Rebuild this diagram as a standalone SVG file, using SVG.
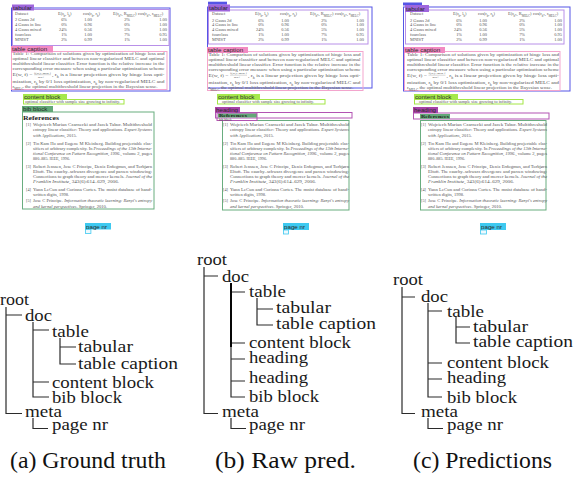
<svg xmlns="http://www.w3.org/2000/svg" width="583" height="477" viewBox="0 0 583 477">
<style>
.tb{font-family:"Liberation Serif","Times New Roman",serif;font-size:4.4px;fill:#555}
.tb text.r{text-anchor:end}
.sb{font-size:3px;baseline-shift:sub}
.it{font-style:italic}
.rf{font-family:"Liberation Serif","Times New Roman",serif;font-size:4.2px;fill:#555}
.hd{font-family:"Liberation Serif","Times New Roman",serif;font-size:6.6px;font-weight:bold;fill:#222}
.lb{font-family:"Liberation Sans",Arial,sans-serif;font-size:6.2px;fill:#2a2a2a}
.tr{font-family:"Liberation Serif","Times New Roman",serif;font-size:17.5px;fill:#1a1a1a}
.cp{font-family:"Liberation Serif","Times New Roman",serif;font-size:23px;fill:#111}
.ln{stroke:#2b2b2b;stroke-width:1.2;fill:none}
.bx{fill:none;stroke-width:1}
.s-tab{stroke:#b890e8}.f-tab{fill:#9f66dc}
.s-tbl{stroke:#5555e6}.f-tbl{fill:#5555e6}
.s-cap{stroke:#f3a5cd}.f-cap{fill:#f28ac2}
.s-cb{stroke:#a3e645}.f-cb{fill:#a6e84c}
.s-bib{stroke:#69ad7f}.f-bib{fill:#62a878}
.s-hd{stroke:#b354b3}.f-hd{fill:#a843a8}
.f-pn{fill:#3ec9f0}
.pnb{fill:#eef9fd;stroke:#3ec9f0;stroke-width:0.8}
</style>

<!-- ===== Panel (a) page ===== -->
<g id="page-a">
<g id="a-table">
<rect class="bx s-tbl" x="11.5" y="8" width="158.5" height="83"/>
<rect class="bx s-tab" x="12.5" y="9.5" width="156.5" height="36"/>
<g class="tb">
<text x="15" y="15.2">Dataset</text>
<text x="58" y="15.2">E(r<tspan class="sb">h</tspan>, l<tspan class="sb">h</tspan>)</text>
<text x="83" y="15.2">cos(r<tspan class="sb">h</tspan>, r<tspan class="sb">h</tspan>)</text>
<text x="113" y="15.2">E(r<tspan class="sb">h*</tspan>, R<tspan class="sb">MELC</tspan>)</text>
<text x="138" y="15.2">cos(r<tspan class="sb">h*</tspan>, r<tspan class="sb">MELC</tspan>)</text>
<text x="15" y="21.3">2 Gauss 2d</text><text class="r" x="67" y="21.3">6%</text><text class="r" x="92" y="21.3">1.00</text><text class="r" x="130" y="21.3">2%</text><text class="r" x="167" y="21.3">1.00</text>
<text x="15" y="26.2">4 Gauss in line</text><text class="r" x="67" y="26.2">0%</text><text class="r" x="92" y="26.2">0.96</text><text class="r" x="130" y="26.2">0%</text><text class="r" x="167" y="26.2">1.00</text>
<text x="15" y="31.1">4 Gauss mixed</text><text class="r" x="67" y="31.1">24%</text><text class="r" x="92" y="31.1">0.56</text><text class="r" x="130" y="31.1">5%</text><text class="r" x="167" y="31.1">1.00</text>
<text x="15" y="36">fourclass</text><text class="r" x="67" y="36">1%</text><text class="r" x="92" y="36">1.00</text><text class="r" x="130" y="36">7%</text><text class="r" x="167" y="36">0.95</text>
<text x="15" y="41">MNIST</text><text class="r" x="67" y="41">2%</text><text class="r" x="92" y="41">0.99</text><text class="r" x="130" y="41">1%</text><text class="r" x="167" y="41">1.00</text>
</g>
<rect class="f-tab" x="12" y="4.5" width="22" height="6"/>
<text class="lb" x="13" y="9.6">tabular</text>
<rect class="bx s-cap" x="11.5" y="51.5" width="155.5" height="38"/>
<g class="tb">
<text x="12.5" y="55" textLength="152" lengthAdjust="spacingAndGlyphs">Table 1: Comparison of solutions given by optimization of hinge loss and</text>
<text x="12.5" y="60" textLength="152" lengthAdjust="spacingAndGlyphs">optimal linear classifier and between non-regularized MELC and optimal</text>
<text x="12.5" y="65" textLength="152" lengthAdjust="spacingAndGlyphs">multithreshold linear classifier. Error function is the relative increase in the</text>
<text x="12.5" y="70" textLength="152" lengthAdjust="spacingAndGlyphs">corresponding error measure when using a particular optimization scheme</text>
<text x="12.5" y="76" textLength="20" lengthAdjust="spacingAndGlyphs">E(w, f) =</text>
<text x="34" y="73.9" style="font-size:2.8px" textLength="17" lengthAdjust="spacingAndGlyphs">f(w)−min f</text>
<line x1="34" y1="74.7" x2="51" y2="74.7" stroke="#777" stroke-width="0.3"/>
<text x="38" y="77.8" style="font-size:2.8px">min f</text>
<text x="52" y="76" textLength="112.5" lengthAdjust="spacingAndGlyphs">, r<tspan class="sb">h</tspan> is a linear projection given by hinge loss opti-</text>
<text x="12.5" y="83" textLength="152" lengthAdjust="spacingAndGlyphs">mization, r<tspan class="sb">h</tspan> by 0/1 loss optimization, r<tspan class="sb">h</tspan> by non-regularized MELC and</text>
<text x="12.5" y="88.3" textLength="145" lengthAdjust="spacingAndGlyphs">r<tspan class="sb">MELC</tspan> the optimal multithreshold linear projection in the Bayesian sense.</text>
</g>
<rect class="f-cap" x="11" y="46" width="42" height="6.5"/>
<text class="lb" x="12" y="51.4">table caption</text>
</g>
<g id="a-content">
<rect class="bx s-cb" x="23.5" y="99.5" width="100.5" height="4.5"/>
<text class="tb" x="25" y="103.3" textLength="95" lengthAdjust="spacingAndGlyphs">optimal classifier with sample size growing to infinity.</text>
<rect class="f-cb" x="23" y="94" width="44" height="6"/>
<text class="lb" x="24" y="99.3">content block</text>
</g>
<g id="a-bib">
<rect class="bx s-bib" x="22.5" y="112" width="131.5" height="97"/>
<rect class="f-bib" x="22" y="106" width="31" height="6"/>
<text class="lb" x="23" y="111.3">bib block</text>
<text class="hd" x="23" y="119.5" textLength="36" lengthAdjust="spacingAndGlyphs">References</text>
<g transform="translate(26,0)" class="rf">
<text x="0" y="126.3">[1]</text>
<text x="7" y="126.3" textLength="119" lengthAdjust="spacingAndGlyphs">Wojciech Marian Czarnecki and Jacek Tabor.  Multithreshold</text>
<text x="7" y="131.3" textLength="119" lengthAdjust="spacingAndGlyphs">entropy linear classifier: Theory and applications. <tspan class="it">Expert Systems</tspan></text>
<text x="7" y="136.6" textLength="44" lengthAdjust="spacingAndGlyphs"><tspan class="it">with Applications</tspan>, 2015.</text>
<text x="0" y="144.6">[2]</text>
<text x="7" y="144.6" textLength="119" lengthAdjust="spacingAndGlyphs">Tin Kam Ho and Eugene M Kleinberg. Building projectable clas-</text>
<text x="7" y="149.6" textLength="119" lengthAdjust="spacingAndGlyphs">sifiers of arbitrary complexity. In <tspan class="it">Proceedings of the 13th Interna-</tspan></text>
<text x="7" y="154.6" textLength="119" lengthAdjust="spacingAndGlyphs"><tspan class="it">tional Conference on Pattern Recognition, 1996.</tspan>, volume 2, pages</text>
<text x="7" y="159.6" textLength="37" lengthAdjust="spacingAndGlyphs">880–885. IEEE, 1996.</text>
<text x="0" y="167.6">[3]</text>
<text x="7" y="167.6" textLength="119" lengthAdjust="spacingAndGlyphs">Robert Jenssen, Jose C Principe, Deniz Erdogmus, and Torbjørn</text>
<text x="7" y="173" textLength="119" lengthAdjust="spacingAndGlyphs">Eltoft.  The cauchy–schwarz divergence and parzen windowing:</text>
<text x="7" y="178" textLength="119" lengthAdjust="spacingAndGlyphs">Connections to graph theory and mercer kernels. <tspan class="it">Journal of the</tspan></text>
<text x="7" y="183" textLength="86" lengthAdjust="spacingAndGlyphs"><tspan class="it">Franklin Institute</tspan>, 343(6):614–629, 2006.</text>
<text x="0" y="190.6">[4]</text>
<text x="7" y="190.6" textLength="119" lengthAdjust="spacingAndGlyphs">Yann LeCun and Corinna Cortes. The mnist database of hand-</text>
<text x="7" y="195.6" textLength="36" lengthAdjust="spacingAndGlyphs">written digits, 1998.</text>
<text x="0" y="202">[5]</text>
<text x="7" y="202" textLength="119" lengthAdjust="spacingAndGlyphs">Jose C Principe. <tspan class="it">Information theoretic learning: Renyi's entropy</tspan></text>
<text x="7" y="208.2" textLength="74" lengthAdjust="spacingAndGlyphs"><tspan class="it">and kernel perspectives</tspan>. Springer, 2010.</text>
</g>
</g>
<g id="a-pagenr">
<rect class="f-pn" x="85" y="223" width="26" height="6.5"/>
<text class="lb" x="86" y="228.5">page nr</text>
<rect class="pnb" x="85.4" y="229.5" width="5.5" height="4"/>
</g>
</g>

<!-- ===== Panel (b) page ===== -->
<g id="page-b">
<g id="b-table">
<rect class="bx s-tbl" x="207.5" y="7" width="164.5" height="81"/>
<rect class="bx s-tab" x="208.5" y="10" width="159.5" height="34"/>
<g transform="translate(197,0.3)" class="tb">
<text x="15" y="15.2">Dataset</text>
<text x="58" y="15.2">E(r<tspan class="sb">h</tspan>, l<tspan class="sb">h</tspan>)</text>
<text x="83" y="15.2">cos(r<tspan class="sb">h</tspan>, r<tspan class="sb">h</tspan>)</text>
<text x="113" y="15.2">E(r<tspan class="sb">h*</tspan>, R<tspan class="sb">MELC</tspan>)</text>
<text x="138" y="15.2">cos(r<tspan class="sb">h*</tspan>, r<tspan class="sb">MELC</tspan>)</text>
<text x="15" y="21.3">2 Gauss 2d</text><text class="r" x="67" y="21.3">6%</text><text class="r" x="92" y="21.3">1.00</text><text class="r" x="130" y="21.3">2%</text><text class="r" x="167" y="21.3">1.00</text>
<text x="15" y="26.2">4 Gauss in line</text><text class="r" x="67" y="26.2">0%</text><text class="r" x="92" y="26.2">0.96</text><text class="r" x="130" y="26.2">0%</text><text class="r" x="167" y="26.2">1.00</text>
<text x="15" y="31.1">4 Gauss mixed</text><text class="r" x="67" y="31.1">24%</text><text class="r" x="92" y="31.1">0.56</text><text class="r" x="130" y="31.1">5%</text><text class="r" x="167" y="31.1">1.00</text>
<text x="15" y="36">fourclass</text><text class="r" x="67" y="36">1%</text><text class="r" x="92" y="36">1.00</text><text class="r" x="130" y="36">7%</text><text class="r" x="167" y="36">0.95</text>
<text x="15" y="41">MNIST</text><text class="r" x="67" y="41">2%</text><text class="r" x="92" y="41">0.99</text><text class="r" x="130" y="41">1%</text><text class="r" x="167" y="41">1.00</text>
</g>
<rect class="f-tbl" x="208" y="1.7" width="19" height="3"/>
<rect class="f-tab" x="208" y="4.5" width="22" height="7"/>
<text class="lb" x="209" y="10.3">tabular</text>
<rect class="bx s-cap" x="207.5" y="51.5" width="155.5" height="39"/>
<g transform="translate(196,0.5)" class="tb">
<text x="12.5" y="55" textLength="152" lengthAdjust="spacingAndGlyphs">Table 1: Comparison of solutions given by optimization of hinge loss and</text>
<text x="12.5" y="60" textLength="152" lengthAdjust="spacingAndGlyphs">optimal linear classifier and between non-regularized MELC and optimal</text>
<text x="12.5" y="65" textLength="152" lengthAdjust="spacingAndGlyphs">multithreshold linear classifier. Error function is the relative increase in the</text>
<text x="12.5" y="70" textLength="152" lengthAdjust="spacingAndGlyphs">corresponding error measure when using a particular optimization scheme</text>
<text x="12.5" y="76" textLength="20" lengthAdjust="spacingAndGlyphs">E(w, f) =</text>
<text x="34" y="73.9" style="font-size:2.8px" textLength="17" lengthAdjust="spacingAndGlyphs">f(w)−min f</text>
<line x1="34" y1="74.7" x2="51" y2="74.7" stroke="#777" stroke-width="0.3"/>
<text x="38" y="77.8" style="font-size:2.8px">min f</text>
<text x="52" y="76" textLength="112.5" lengthAdjust="spacingAndGlyphs">, r<tspan class="sb">h</tspan> is a linear projection given by hinge loss opti-</text>
<text x="12.5" y="83" textLength="152" lengthAdjust="spacingAndGlyphs">mization, r<tspan class="sb">h</tspan> by 0/1 loss optimization, r<tspan class="sb">h</tspan> by non-regularized MELC and</text>
<text x="12.5" y="88.3" textLength="145" lengthAdjust="spacingAndGlyphs">r<tspan class="sb">MELC</tspan> the optimal multithreshold linear projection in the Bayesian sense.</text>
</g>
<rect class="f-cap" x="207" y="47" width="41" height="6"/>
<text class="lb" x="208" y="52.2">table caption</text>
</g>
<g id="b-content">
<rect class="bx s-cb" x="217.5" y="99.5" width="107.5" height="4.5"/>
<text class="tb" x="222" y="103.3" textLength="92" lengthAdjust="spacingAndGlyphs">optimal classifier with sample size growing to infinity.</text>
<rect class="f-cb" x="217" y="94" width="43" height="6"/>
<text class="lb" x="218" y="99.3">content block</text>
</g>
<g id="b-bib">
<rect class="bx s-bib" x="222.5" y="120.5" width="126.5" height="89.5"/>
<g transform="translate(223,0)" class="rf">
<text x="0" y="126.3">[1]</text>
<text x="7" y="126.3" textLength="119" lengthAdjust="spacingAndGlyphs">Wojciech Marian Czarnecki and Jacek Tabor.  Multithreshold</text>
<text x="7" y="131.3" textLength="119" lengthAdjust="spacingAndGlyphs">entropy linear classifier: Theory and applications. <tspan class="it">Expert Systems</tspan></text>
<text x="7" y="136.6" textLength="44" lengthAdjust="spacingAndGlyphs"><tspan class="it">with Applications</tspan>, 2015.</text>
<text x="0" y="144.6">[2]</text>
<text x="7" y="144.6" textLength="119" lengthAdjust="spacingAndGlyphs">Tin Kam Ho and Eugene M Kleinberg. Building projectable clas-</text>
<text x="7" y="149.6" textLength="119" lengthAdjust="spacingAndGlyphs">sifiers of arbitrary complexity. In <tspan class="it">Proceedings of the 13th Interna-</tspan></text>
<text x="7" y="154.6" textLength="119" lengthAdjust="spacingAndGlyphs"><tspan class="it">tional Conference on Pattern Recognition, 1996.</tspan>, volume 2, pages</text>
<text x="7" y="159.6" textLength="37" lengthAdjust="spacingAndGlyphs">880–885. IEEE, 1996.</text>
<text x="0" y="167.6">[3]</text>
<text x="7" y="167.6" textLength="119" lengthAdjust="spacingAndGlyphs">Robert Jenssen, Jose C Principe, Deniz Erdogmus, and Torbjørn</text>
<text x="7" y="173" textLength="119" lengthAdjust="spacingAndGlyphs">Eltoft.  The cauchy–schwarz divergence and parzen windowing:</text>
<text x="7" y="178" textLength="119" lengthAdjust="spacingAndGlyphs">Connections to graph theory and mercer kernels. <tspan class="it">Journal of the</tspan></text>
<text x="7" y="183" textLength="86" lengthAdjust="spacingAndGlyphs"><tspan class="it">Franklin Institute</tspan>, 343(6):614–629, 2006.</text>
<text x="0" y="190.6">[4]</text>
<text x="7" y="190.6" textLength="119" lengthAdjust="spacingAndGlyphs">Yann LeCun and Corinna Cortes. The mnist database of hand-</text>
<text x="7" y="195.6" textLength="36" lengthAdjust="spacingAndGlyphs">written digits, 1998.</text>
<text x="0" y="202">[5]</text>
<text x="7" y="202" textLength="119" lengthAdjust="spacingAndGlyphs">Jose C Principe. <tspan class="it">Information theoretic learning: Renyi's entropy</tspan></text>
<text x="7" y="208.2" textLength="74" lengthAdjust="spacingAndGlyphs"><tspan class="it">and kernel perspectives</tspan>. Springer, 2010.</text>
</g>
</g>
<g id="b-heading1">
<rect class="bx s-hd" x="215.5" y="112.5" width="136.5" height="5.5"/>
<rect class="f-hd" x="215" y="107" width="25" height="6"/>
<text class="lb" x="216" y="112.2">heading</text>
</g>
<g id="b-heading2">
<rect class="f-bib" x="218" y="113.3" width="39" height="4.2"/>
<text class="hd" x="219" y="117.2" textLength="28" lengthAdjust="spacingAndGlyphs" style="font-size:4.6px">References</text>
<rect class="bx s-hd" x="217" y="113" width="40" height="7.5"/>
<text class="lb" x="219" y="120.6" style="font-size:3.2px;fill:#555">bib block</text>
</g>
<g id="b-pagenr">
<rect class="f-pn" x="283" y="223" width="26" height="7"/>
<text class="lb" x="284" y="228.8">page nr</text>
<rect class="pnb" x="283.4" y="230" width="5" height="4"/>
</g>
</g>

<!-- ===== Panel (c) page ===== -->
<g id="page-c">
<g id="c-table">
<rect class="bx s-tbl" x="403.5" y="7" width="166.5" height="84"/>
<rect class="bx s-tab" x="405.5" y="10" width="158.5" height="34"/>
<g transform="translate(395,0.3)" class="tb">
<text x="15" y="15.2">Dataset</text>
<text x="58" y="15.2">E(r<tspan class="sb">h</tspan>, l<tspan class="sb">h</tspan>)</text>
<text x="83" y="15.2">cos(r<tspan class="sb">h</tspan>, r<tspan class="sb">h</tspan>)</text>
<text x="113" y="15.2">E(r<tspan class="sb">h*</tspan>, R<tspan class="sb">MELC</tspan>)</text>
<text x="138" y="15.2">cos(r<tspan class="sb">h*</tspan>, r<tspan class="sb">MELC</tspan>)</text>
<text x="15" y="21.3">2 Gauss 2d</text><text class="r" x="67" y="21.3">6%</text><text class="r" x="92" y="21.3">1.00</text><text class="r" x="130" y="21.3">2%</text><text class="r" x="167" y="21.3">1.00</text>
<text x="15" y="26.2">4 Gauss in line</text><text class="r" x="67" y="26.2">0%</text><text class="r" x="92" y="26.2">0.96</text><text class="r" x="130" y="26.2">0%</text><text class="r" x="167" y="26.2">1.00</text>
<text x="15" y="31.1">4 Gauss mixed</text><text class="r" x="67" y="31.1">24%</text><text class="r" x="92" y="31.1">0.56</text><text class="r" x="130" y="31.1">5%</text><text class="r" x="167" y="31.1">1.00</text>
<text x="15" y="36">fourclass</text><text class="r" x="67" y="36">1%</text><text class="r" x="92" y="36">1.00</text><text class="r" x="130" y="36">7%</text><text class="r" x="167" y="36">0.95</text>
<text x="15" y="41">MNIST</text><text class="r" x="67" y="41">2%</text><text class="r" x="92" y="41">0.99</text><text class="r" x="130" y="41">1%</text><text class="r" x="167" y="41">1.00</text>
</g>
<rect class="f-tbl" x="403" y="2.5" width="19" height="3"/>
<rect class="f-tab" x="405" y="5" width="24" height="7"/>
<text class="lb" x="406" y="10.6">tabular</text>
<rect class="bx s-cap" x="404.5" y="51.5" width="155.5" height="39"/>
<g transform="translate(394.5,0.5)" class="tb">
<text x="12.5" y="55" textLength="152" lengthAdjust="spacingAndGlyphs">Table 1: Comparison of solutions given by optimization of hinge loss and</text>
<text x="12.5" y="60" textLength="152" lengthAdjust="spacingAndGlyphs">optimal linear classifier and between non-regularized MELC and optimal</text>
<text x="12.5" y="65" textLength="152" lengthAdjust="spacingAndGlyphs">multithreshold linear classifier. Error function is the relative increase in the</text>
<text x="12.5" y="70" textLength="152" lengthAdjust="spacingAndGlyphs">corresponding error measure when using a particular optimization scheme</text>
<text x="12.5" y="76" textLength="20" lengthAdjust="spacingAndGlyphs">E(w, f) =</text>
<text x="34" y="73.9" style="font-size:2.8px" textLength="17" lengthAdjust="spacingAndGlyphs">f(w)−min f</text>
<line x1="34" y1="74.7" x2="51" y2="74.7" stroke="#777" stroke-width="0.3"/>
<text x="38" y="77.8" style="font-size:2.8px">min f</text>
<text x="52" y="76" textLength="112.5" lengthAdjust="spacingAndGlyphs">, r<tspan class="sb">h</tspan> is a linear projection given by hinge loss opti-</text>
<text x="12.5" y="83" textLength="152" lengthAdjust="spacingAndGlyphs">mization, r<tspan class="sb">h</tspan> by 0/1 loss optimization, r<tspan class="sb">h</tspan> by non-regularized MELC and</text>
<text x="12.5" y="88.3" textLength="145" lengthAdjust="spacingAndGlyphs">r<tspan class="sb">MELC</tspan> the optimal multithreshold linear projection in the Bayesian sense.</text>
</g>
<rect class="f-cap" x="404" y="47" width="41" height="6"/>
<text class="lb" x="405" y="52.2">table caption</text>
</g>
<g id="c-content">
<rect class="bx s-cb" x="414.5" y="99.5" width="108.5" height="4.5"/>
<text class="tb" x="419" y="103.3" textLength="93" lengthAdjust="spacingAndGlyphs">optimal classifier with sample size growing to infinity.</text>
<rect class="f-cb" x="414" y="94" width="44" height="6"/>
<text class="lb" x="415" y="99.3">content block</text>
</g>
<g id="c-bib">
<rect class="bx s-bib" x="420.5" y="120.5" width="125.5" height="89.5"/>
<g transform="translate(421,0)" class="rf">
<text x="0" y="126.3">[1]</text>
<text x="7" y="126.3" textLength="119" lengthAdjust="spacingAndGlyphs">Wojciech Marian Czarnecki and Jacek Tabor.  Multithreshold</text>
<text x="7" y="131.3" textLength="119" lengthAdjust="spacingAndGlyphs">entropy linear classifier: Theory and applications. <tspan class="it">Expert Systems</tspan></text>
<text x="7" y="136.6" textLength="44" lengthAdjust="spacingAndGlyphs"><tspan class="it">with Applications</tspan>, 2015.</text>
<text x="0" y="144.6">[2]</text>
<text x="7" y="144.6" textLength="119" lengthAdjust="spacingAndGlyphs">Tin Kam Ho and Eugene M Kleinberg. Building projectable clas-</text>
<text x="7" y="149.6" textLength="119" lengthAdjust="spacingAndGlyphs">sifiers of arbitrary complexity. In <tspan class="it">Proceedings of the 13th Interna-</tspan></text>
<text x="7" y="154.6" textLength="119" lengthAdjust="spacingAndGlyphs"><tspan class="it">tional Conference on Pattern Recognition, 1996.</tspan>, volume 2, pages</text>
<text x="7" y="159.6" textLength="37" lengthAdjust="spacingAndGlyphs">880–885. IEEE, 1996.</text>
<text x="0" y="167.6">[3]</text>
<text x="7" y="167.6" textLength="119" lengthAdjust="spacingAndGlyphs">Robert Jenssen, Jose C Principe, Deniz Erdogmus, and Torbjørn</text>
<text x="7" y="173" textLength="119" lengthAdjust="spacingAndGlyphs">Eltoft.  The cauchy–schwarz divergence and parzen windowing:</text>
<text x="7" y="178" textLength="119" lengthAdjust="spacingAndGlyphs">Connections to graph theory and mercer kernels. <tspan class="it">Journal of the</tspan></text>
<text x="7" y="183" textLength="86" lengthAdjust="spacingAndGlyphs"><tspan class="it">Franklin Institute</tspan>, 343(6):614–629, 2006.</text>
<text x="0" y="190.6">[4]</text>
<text x="7" y="190.6" textLength="119" lengthAdjust="spacingAndGlyphs">Yann LeCun and Corinna Cortes. The mnist database of hand-</text>
<text x="7" y="195.6" textLength="36" lengthAdjust="spacingAndGlyphs">written digits, 1998.</text>
<text x="0" y="202">[5]</text>
<text x="7" y="202" textLength="119" lengthAdjust="spacingAndGlyphs">Jose C Principe. <tspan class="it">Information theoretic learning: Renyi's entropy</tspan></text>
<text x="7" y="208.2" textLength="74" lengthAdjust="spacingAndGlyphs"><tspan class="it">and kernel perspectives</tspan>. Springer, 2010.</text>
</g>
</g>
<g id="c-heading">
<rect class="bx s-hd" x="413.5" y="113" width="135.5" height="6"/>
<rect class="f-bib" x="420" y="114" width="30" height="4.8"/>
<text class="hd" x="421" y="118.2" textLength="28" lengthAdjust="spacingAndGlyphs" style="font-size:4.6px">References</text>
<rect class="f-hd" x="413" y="107" width="25" height="6"/>
<text class="lb" x="414" y="112.2">heading</text>
</g>
<g id="c-pagenr">
<rect class="f-pn" x="480" y="223" width="26" height="7"/>
<text class="lb" x="481" y="228.8">page nr</text>
<rect class="pnb" x="480.4" y="230" width="6" height="4"/>
</g>
</g>

<!-- ===== Trees: connectors ===== -->
<g id="connectors" class="ln">
<path d="M6,307V413.5H22M6,315H22"/>
<path d="M33,322V397H49M33,330H49M33,382H49"/>
<path d="M60,338V364H76M60,347H76"/>
<path d="M33,418V428.5H48"/>
<path d="M204,267V413.5H218M204,276H218"/>
<path d="M231,283V397H245M231,292H245M231,343H245M231,359H245M231,381H245"/>
<path d="M231,283V347" style="stroke:#000;stroke-width:1.9"/>
<path d="M257,298V325H273M257,309H273"/>
<path d="M231,418V428.5H246"/>
<path d="M402,287V413.5H415M402,297H415"/>
<path d="M428,303V397H442M428,311H442M428,363H442M428,379H442"/>
<path d="M456,317V343H470M456,327H470"/>
<path d="M428,418V428.5H443"/>
</g>

<!-- ===== Trees: nodes ===== -->
<g id="tree-a" class="tr">
<g id="a-root"><text x="0" y="305" textLength="29" lengthAdjust="spacingAndGlyphs">root</text></g>
<g id="a-doc"><text x="25" y="320.7" textLength="27" lengthAdjust="spacingAndGlyphs">doc</text></g>
<g id="a-tablenode"><text x="52" y="336.7" textLength="37" lengthAdjust="spacingAndGlyphs">table</text></g>
<g id="a-tabular"><text x="78" y="351.7" textLength="55" lengthAdjust="spacingAndGlyphs">tabular</text></g>
<g id="a-tablecaption"><text x="78" y="369" textLength="100" lengthAdjust="spacingAndGlyphs">table caption</text></g>
<g id="a-contentblock"><text x="52" y="387.7" textLength="102" lengthAdjust="spacingAndGlyphs">content block</text></g>
<g id="a-bibblock"><text x="52" y="403.3" textLength="70" lengthAdjust="spacingAndGlyphs">bib block</text></g>
<g id="a-meta"><text x="25" y="416.7" textLength="37" lengthAdjust="spacingAndGlyphs">meta</text></g>
<g id="a-pagenrnode"><text x="52" y="430" textLength="56" lengthAdjust="spacingAndGlyphs">page nr</text></g>
<g id="a-caption"><text class="cp" x="10" y="468" textLength="156" lengthAdjust="spacingAndGlyphs">(a) Ground truth</text></g>
</g>
<g id="tree-b" class="tr">
<g id="b-root"><text x="197" y="265" textLength="30" lengthAdjust="spacingAndGlyphs">root</text></g>
<g id="b-doc"><text x="222" y="281.7" textLength="27" lengthAdjust="spacingAndGlyphs">doc</text></g>
<g id="b-tablenode"><text x="249" y="296.7" textLength="37" lengthAdjust="spacingAndGlyphs">table</text></g>
<g id="b-tabular"><text x="276" y="313.3" textLength="55" lengthAdjust="spacingAndGlyphs">tabular</text></g>
<g id="b-tablecaption"><text x="276" y="329" textLength="100" lengthAdjust="spacingAndGlyphs">table caption</text></g>
<g id="b-contentblock"><text x="249" y="348.3" textLength="102" lengthAdjust="spacingAndGlyphs">content block</text></g>
<g id="b-headingnode1"><text x="249" y="362.7" textLength="59" lengthAdjust="spacingAndGlyphs">heading</text></g>
<g id="b-headingnode2"><text x="249" y="382.7" textLength="59" lengthAdjust="spacingAndGlyphs">heading</text></g>
<g id="b-bibblock"><text x="249" y="401.7" textLength="70" lengthAdjust="spacingAndGlyphs">bib block</text></g>
<g id="b-meta"><text x="222" y="416.7" textLength="37" lengthAdjust="spacingAndGlyphs">meta</text></g>
<g id="b-pagenrnode"><text x="249" y="430" textLength="56" lengthAdjust="spacingAndGlyphs">page nr</text></g>
<g id="b-caption"><text class="cp" x="215" y="468" textLength="141" lengthAdjust="spacingAndGlyphs">(b) Raw pred.</text></g>
</g>
<g id="tree-c" class="tr">
<g id="c-root"><text x="393" y="285" textLength="30" lengthAdjust="spacingAndGlyphs">root</text></g>
<g id="c-doc"><text x="421" y="301.7" textLength="27" lengthAdjust="spacingAndGlyphs">doc</text></g>
<g id="c-tablenode"><text x="447" y="316.7" textLength="37" lengthAdjust="spacingAndGlyphs">table</text></g>
<g id="c-tabular"><text x="473" y="331.7" textLength="55" lengthAdjust="spacingAndGlyphs">tabular</text></g>
<g id="c-tablecaption"><text x="473" y="346.7" textLength="100" lengthAdjust="spacingAndGlyphs">table caption</text></g>
<g id="c-contentblock"><text x="447" y="368.3" textLength="102" lengthAdjust="spacingAndGlyphs">content block</text></g>
<g id="c-headingnode"><text x="447" y="383.3" textLength="59" lengthAdjust="spacingAndGlyphs">heading</text></g>
<g id="c-bibblock"><text x="447" y="403.3" textLength="70" lengthAdjust="spacingAndGlyphs">bib block</text></g>
<g id="c-meta"><text x="421" y="416.7" textLength="37" lengthAdjust="spacingAndGlyphs">meta</text></g>
<g id="c-pagenrnode"><text x="447" y="430" textLength="56" lengthAdjust="spacingAndGlyphs">page nr</text></g>
<g id="c-caption"><text class="cp" x="413" y="468" textLength="139" lengthAdjust="spacingAndGlyphs">(c) Predictions</text></g>
</g>
</svg>
